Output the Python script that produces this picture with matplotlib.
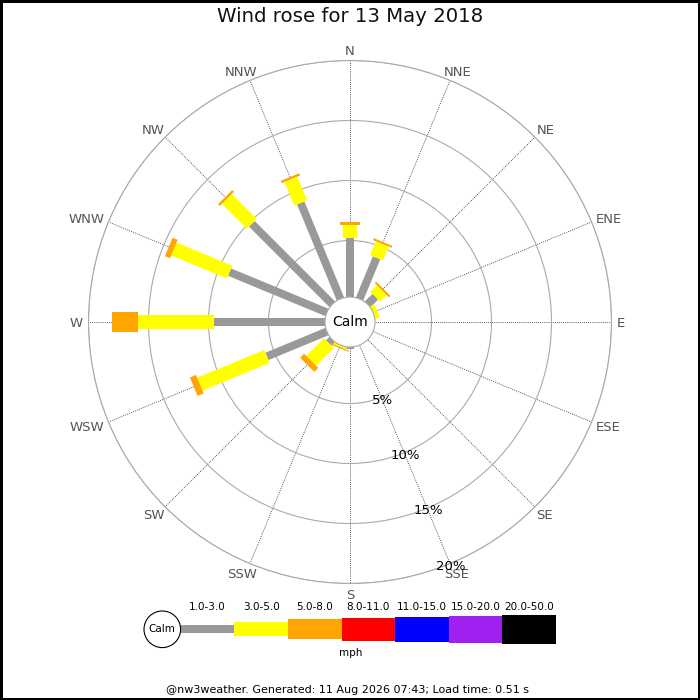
import numpy as np
import matplotlib
matplotlib.use("Agg")
import matplotlib.pyplot as plt
from matplotlib.patches import Circle, Rectangle

# 16 compass points, clockwise from north
dirs = ["N", "NNE", "NE", "ENE", "E", "ESE", "SE", "SSE",
        "S", "SSW", "SW", "WSW", "W", "WNW", "NW", "NNW"]

# % of time per speed band (mph)
spd_1_3 = [5.22, 4.0, 1.19, 0.15, 0, 0, 0, 0, 0.46, 0.1, 0.7, 5.7, 9.56, 9.07, 9.78, 8.95]
spd_3_5 = [1.11, 1.25, 0.77, 0.52, 0, 0, 0, 0, 0, 0.35, 2.08, 6.05, 6.33, 5.03, 2.94, 2.13]
spd_5_8 = [0.22, 0.17, 0.17, 0, 0, 0, 0, 0, 0, 0.1, 0.47, 0.55, 2.11, 0.45, 0.2, 0.2]
spd_8_11 = [0] * 16
spd_11_15 = [0] * 16
spd_15_20 = [0] * 16
spd_20_50 = [0] * 16

bands = ["1.0-3.0", "3.0-5.0", "5.0-8.0", "8.0-11.0", "11.0-15.0", "15.0-20.0", "20.0-50.0"]
band_cols = ["#999999", "#ffff00", "#ffa500", "#ff0000", "#0000ff", "#a020f0", "#000000"]
band_px = [8, 14, 20, 23, 25, 27, 29]   # bar thickness in pixels
rings = [5, 10, 15, 20]

title = "Wind rose for 13 May 2018"
footer = "@nw3weather. Generated: 11 Aug 2026 07:43; Load time: 0.51 s"

W = H = 700
cx, cy = 350, 322        # centre of rose (px)
r_out = 261.5            # outer ring radius (px)
r_zero = 21.5            # radius of 0 %
pxper = (r_out - r_zero) / 20.0
PT = 0.72                # points per pixel at 100 dpi

fig = plt.figure(figsize=(7, 7), dpi=100)
ax = fig.add_axes([(cx - r_out) / W, (H - cy - r_out) / H, 2 * r_out / W, 2 * r_out / H],
                  projection="polar")
ax.set_theta_zero_location("N")
ax.set_theta_direction(-1)
ax.set_rlim(0, 20)
ax.set_rorigin(-r_zero / pxper)

theta = np.deg2rad(np.arange(16) * 22.5)
data = np.array([spd_1_3, spd_3_5, spd_5_8, spd_8_11, spd_11_15, spd_15_20, spd_20_50])
cum = np.vstack([np.zeros(16), np.cumsum(data, axis=0)])

for k in range(len(bands)):
    for i in range(16):
        if data[k, i] <= 0:
            continue
        ax.plot([theta[i], theta[i]], [cum[k, i], cum[k + 1, i]],
                color=band_cols[k], lw=band_px[k] * PT,
                solid_capstyle="butt", zorder=3 + k)

ax.set_thetagrids(np.arange(16) * 22.5, [""] * 16)
ax.set_yticks(rings)
ax.set_yticklabels([])
ax.xaxis.grid(True, color="#222222", linestyle=(0, (1, 1.5)), lw=0.6)
ax.yaxis.grid(True, color="#aaaaaa", linestyle="-", lw=0.8)
ax.spines["polar"].set_color("#aaaaaa")
ax.spines["polar"].set_linewidth(0.8)
ax.spines["inner"].set_visible(False)

# compass labels: ink box sits a few px outside the outer ring
lab_fs = 9.5
cap2 = 0.729 * lab_fs / PT / 2.0     # half cap height, px
gap = 5.7
dir_txt = []
for th, lab in zip(theta, dirs):
    t = ax.annotate(lab, xy=(th, 20), xytext=(0, 0), textcoords="offset points",
                    ha="center", va="baseline", fontsize=lab_fs, color="#555555",
                    annotation_clip=False)
    dir_txt.append(t)
fig.canvas.draw()
rend = fig.canvas.get_renderer()
for th, t in zip(theta, dir_txt):
    w2 = t.get_window_extent(rend).width / 2.0
    s, c = np.sin(th), np.cos(th)
    dx = gap * s + w2 * s
    dy = gap * c + cap2 * c - cap2
    t.xyann = (dx * PT, dy * PT)

for v in rings:
    ax.text(np.deg2rad(157.5), v + 0.25, "%d%%" % v, ha="center", va="center",
            fontsize=9.5, color="black", zorder=20)

ax.add_patch(Circle((0.5, 0.5), 25 / (2 * r_out), transform=ax.transAxes,
                    fc="white", ec="#aaaaaa", lw=0.8, zorder=15, clip_on=False))
ax.text(0.5, 0.5, "Calm", transform=ax.transAxes, ha="center", va="center",
        fontsize=10, zorder=16)

fig.text(0.5, 1 - 17 / H, title, ha="center", va="center", fontsize=14.2, color="#111111")

# legend strip, in pixel units
lg = fig.add_axes([140 / W, (H - 665) / H, 420 / W, 70 / H])
lg.set_xlim(140, 560)
lg.set_ylim(665, 595)
lg.axis("off")
seg = 53.6
x0 = 180.7
ly = 629.3
lefts = x0 + seg * np.arange(len(bands))
lg.bar(lefts, band_px, width=seg, bottom=ly - np.array(band_px) / 2.0,
       align="edge", color=band_cols, zorder=2)
for x, lab in zip(lefts, bands):
    lg.text(x + seg / 2, 607, lab, ha="center", va="center", fontsize=7.5)
lg.add_patch(Circle((162.3, ly), 18.3, fc="white", ec="black", lw=0.8, zorder=3))
lg.text(162.3, ly, "Calm", ha="center", va="center", fontsize=7.5, zorder=4)
lg.text(350.7, 653.5, "mph", ha="center", va="center", fontsize=7.5)

fig.text(0.497, 1 - 690 / H, footer, ha="center", va="center", fontsize=8)
fig.patches.append(Rectangle((0, 0), 1, 1, transform=fig.transFigure,
                             fill=False, ec="black", lw=3.6))

fig.savefig("out.png", dpi=100)
